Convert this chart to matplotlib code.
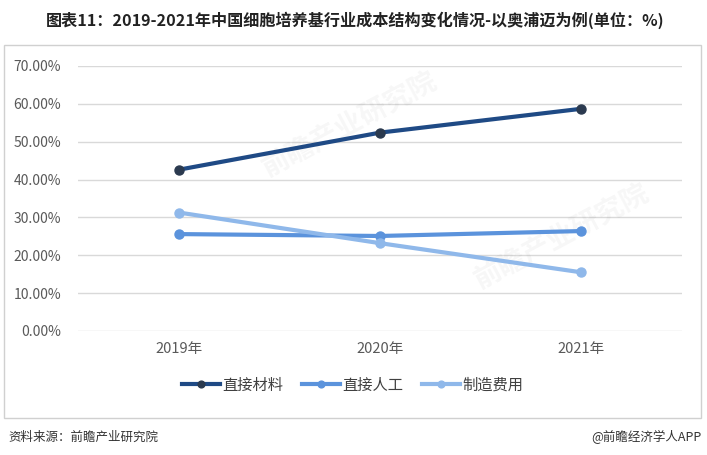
import matplotlib
matplotlib.use("Agg")
import matplotlib.pyplot as plt
from matplotlib.patches import Rectangle
from matplotlib.ticker import FuncFormatter

plt.rcParams['font.family'] = ['Noto Sans CJK SC', 'DejaVu Sans']

years = ["2019年", "2020年", "2021年"]
material = [42.6, 52.4, 58.7]   # 直接材料
labor = [25.6, 25.1, 26.4]      # 直接人工
overhead = [31.3, 23.2, 15.5]   # 制造费用

series = [
    ("直接材料", material, "#1f4a85", "#2b3a4f"),
    ("直接人工", labor, "#5b93dc", "#5b93dc"),
    ("制造费用", overhead, "#8fb8ea", "#8fb8ea"),
]

fig = plt.figure(figsize=(7.07, 4.55), dpi=100)
ax = fig.add_axes([78 / 707, (455 - 331) / 455, (682 - 78) / 707, (331 - 66) / 455])

# faint watermarks
for wx, wy in [(0.45, 0.78), (0.80, 0.36)]:
    ax.text(wx, wy, "前瞻产业研究院", transform=ax.transAxes, rotation=28,
            fontsize=20, color="#000000", alpha=0.035, ha="center", va="center",
            fontweight="bold", zorder=1)

x = list(range(len(years)))
for name, vals, lc, mc in series:
    ax.plot(x, vals, color=lc, lw=3.0, marker="o", ms=6.5,
            markerfacecolor=mc, markeredgecolor=mc, label=name, zorder=3)

ax.set_xlim(-0.5, 2.5)
ax.set_ylim(0, 70)
ax.set_yticks(range(0, 71, 10))
ax.yaxis.set_major_formatter(FuncFormatter(lambda v, p: f"{v:.2f}%"))
ax.set_xticks(x)
ax.set_xticklabels(years)
ax.grid(axis="y", color="#d9d9d9", lw=1)
ax.set_axisbelow(True)
for s in ax.spines.values():
    s.set_visible(False)
ax.tick_params(length=0, labelsize=10.5, colors="#595959", pad=8)
ax.tick_params(axis="y", labelsize=10, pad=12)

ax.legend(loc="upper center", bbox_to_anchor=(0.455, -0.12), ncol=3, frameon=False,
          fontsize=11, handlelength=2.5, columnspacing=1.2, handletextpad=0.15,
          markerscale=0.75, labelcolor="#404040")

# outer frame
fig.patches.append(Rectangle((4 / 707, (455 - 418) / 455), 697 / 707, 373 / 455,
                             transform=fig.transFigure, fill=False,
                             edgecolor="#d0d0d0", lw=1))

fig.text(0.502, 1 - 20 / 455, "图表11：2019-2021年中国细胞培养基行业成本结构变化情况-以奥浦迈为例(单位：%)",
         ha="center", va="center", fontsize=11.6, fontweight="bold", color="#222222")
fig.text(8 / 707, 1 - 437 / 455, "资料来源：前瞻产业研究院", ha="left", va="center",
         fontsize=9, color="#333333")
fig.text(702 / 707, 1 - 437 / 455, "@前瞻经济学人APP", ha="right", va="center",
         fontsize=9, color="#333333")

fig.savefig("out.png", dpi=100)
